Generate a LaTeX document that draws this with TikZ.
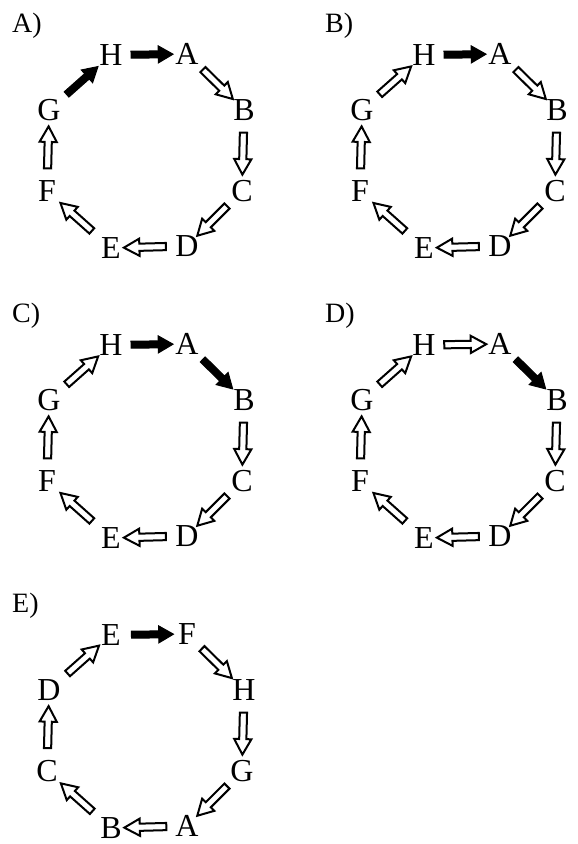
\documentclass[tikz,border=0pt]{standalone}
\usepackage{fontspec}
\setmainfont{Liberation Serif}
\usetikzlibrary{shapes.arrows}
\tikzset{
  lt/.style={inner sep=0pt, font=\fontsize{32}{32}\selectfont},
  lab/.style={inner sep=0pt, anchor=base west, font=\fontsize{28}{28}\selectfont},
  arr/.style={single arrow, draw=black, minimum height=42pt,
    sloped, allow upside down},
  harrow/.style={arr, fill=white, line width=2pt, inner sep=2.6pt,
    single arrow head extend=5pt, single arrow tip angle=58},
  farrow/.style={arr, fill=black, line width=1pt, inner sep=3pt,
    single arrow head extend=5pt, single arrow tip angle=60},
}
\newcommand\ringnodes[9]{%
  \node[lt] (#11) at (111,55) {#2};
  \node[lt] (#12) at (187,54) {#3};
  \node[lt] (#13) at (244,110) {#4};
  \node[lt] (#14) at (242,191) {#5};
  \node[lt] (#15) at (187,246) {#6};
  \node[lt] (#16) at (111,248) {#7};
  \node[lt] (#17) at (47,191) {#8};
  \node[lt] (#18) at (49,110) {#9};
}
\newcommand\ringarrows[9]{%
  \path (#11) -- node[#2] {} (#12);
  \path (#12) -- node[#3] {} (#13);
  \path (#13) -- node[#4] {} (#14);
  \path (#14) -- node[#5] {} (#15);
  \path (#15) -- node[#6] {} (#16);
  \path (#16) -- node[#7] {} (#17);
  \path (#17) -- node[#8] {} (#18);
  \path (#18) -- node[#9] {} (#11);
}
\begin{document}
\begin{tikzpicture}[x=1pt,y=-1pt]
\useasboundingbox (0,0) rectangle (578,844);
% Panel A
\begin{scope}
  \node[lab] (labA) at (12,32) {A)};
  \ringnodes{a}{H}{A}{B}{C}{D}{E}{F}{G}
  \ringarrows{a}{farrow}{harrow}{harrow}{harrow}{harrow}{harrow}{harrow}{farrow}
\end{scope}
% Panel B
\begin{scope}[shift={(313,0)}]
  \node[lab] (labB) at (12,32) {B)};
  \ringnodes{b}{H}{A}{B}{C}{D}{E}{F}{G}
  \ringarrows{b}{farrow}{harrow}{harrow}{harrow}{harrow}{harrow}{harrow}{harrow}
\end{scope}
% Panel C
\begin{scope}[shift={(0,290)}]
  \node[lab] (labC) at (12,32) {C)};
  \ringnodes{c}{H}{A}{B}{C}{D}{E}{F}{G}
  \ringarrows{c}{farrow}{farrow}{harrow}{harrow}{harrow}{harrow}{harrow}{harrow}
\end{scope}
% Panel D
\begin{scope}[shift={(313,290)}]
  \node[lab] (labD) at (12,32) {D)};
  \ringnodes{d}{H}{A}{B}{C}{D}{E}{F}{G}
  \ringarrows{d}{harrow}{farrow}{harrow}{harrow}{harrow}{harrow}{harrow}{harrow}
\end{scope}
% Panel E
\begin{scope}[shift={(0,580)}]
  \node[lab] (labE) at (12,32) {E)};
  \ringnodes{e}{E}{F}{H}{G}{A}{B}{C}{D}
  \ringarrows{e}{farrow}{harrow}{harrow}{harrow}{harrow}{harrow}{harrow}{harrow}
\end{scope}
\end{tikzpicture}
\end{document}
